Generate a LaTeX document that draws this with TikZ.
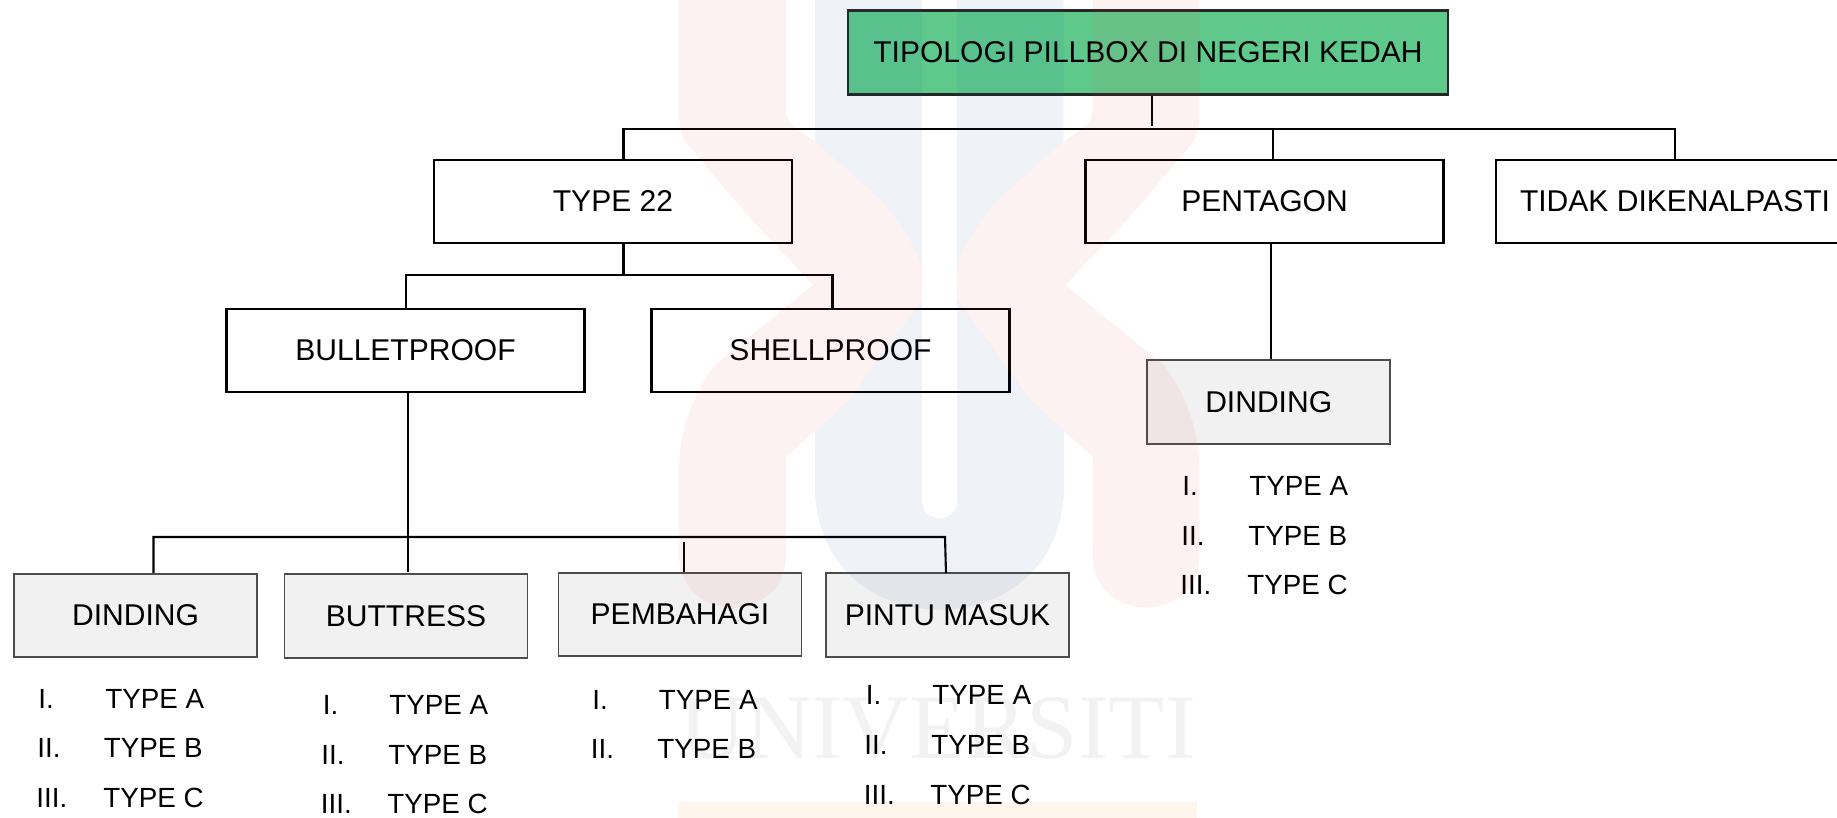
\documentclass[tikz,border=0pt]{standalone}
\usepackage{fontspec}
\setmainfont{Liberation Sans}
\newfontfamily\wmfont{Liberation Serif}
\definecolor{titlegreen}{HTML}{5EC98B}
\definecolor{boxgrey}{HTML}{F1F1F1}
\definecolor{wmred}{RGB}{230,67,67}
\definecolor{wmblue}{RGB}{30,92,155}
\definecolor{wmorange}{RGB}{243,118,0}
\tikzset{
  label/.style={font=\fontsize{17.1}{20}\selectfont, text=black},
  plainbox/.style={label, shape=rectangle, draw=black, line width=0.042cm, minimum width=7.16cm, minimum height=1.66cm, inner sep=0},
  greybox/.style={label, shape=rectangle, draw=black!70, fill=boxgrey, line width=0.036cm, minimum width=4.86cm, minimum height=1.67cm, inner sep=0},
  item/.style={font=\fontsize{15.8}{19}\selectfont, text=black, anchor=base west, inner sep=0, xshift=-0.02cm},
  link/.style={black, line width=0.042cm},
  wmred/.style={fill=wmred, fill opacity=0.065},
  wmblue/.style={fill=wmblue, fill opacity=0.07},
}
\begin{document}
\begin{tikzpicture}[x=0.02cm,y=-0.02cm]
\useasboundingbox (0,0) rectangle (1837,818);

\node[plainbox, draw=black!85, fill=titlegreen, minimum width=12cm, minimum height=1.68cm] (title) at (1148,52.5) {TIPOLOGI PILLBOX DI NEGERI KEDAH};
\node[plainbox] (type22) at (613,201.5) {TYPE 22};
\node[plainbox] (pentagon) at (1264.5,201.5) {PENTAGON};
\node[plainbox] (tidak) at (1675,201.5) {TIDAK DIKENALPASTI};
\node[plainbox] (bullet) at (405.5,350.5) {BULLETPROOF};
\node[plainbox] (shell) at (830.5,350.5) {SHELLPROOF};
\node[greybox] (dinding) at (135.5,615.5) {DINDING};
\node[greybox] (buttress) at (406,616) {BUTTRESS};
\node[greybox] (pembahagi) at (680,614.5) {PEMBAHAGI};
\node[greybox] (pintu) at (947.5,615) {PINTU MASUK};
\node[greybox] (dindingb) at (1268.7,402) {DINDING};

\node[item] (a1n) at (39,708) {I.};
\node[item] (a1t) at (106,708) {TYPE A};
\node[item] (a2n) at (38,757.5) {II.};
\node[item] (a2t) at (104.5,757.5) {TYPE B};
\node[item] (a3n) at (37,807) {III.};
\node[item] (a3t) at (104,807) {TYPE C};
\node[item] (b1n) at (323.5,714.5) {I.};
\node[item] (b1t) at (390,714.5) {TYPE A};
\node[item] (b2n) at (322,764) {II.};
\node[item] (b2t) at (389,764) {TYPE B};
\node[item] (b3n) at (321.5,813) {III.};
\node[item] (b3t) at (388,813) {TYPE C};
\node[item] (c1n) at (593,709) {I.};
\node[item] (c1t) at (659.5,709) {TYPE A};
\node[item] (c2n) at (591.5,758.5) {II.};
\node[item] (c2t) at (658,758.5) {TYPE B};
\node[item] (d1n) at (866.5,704.5) {I.};
\node[item] (d1t) at (933,704.5) {TYPE A};
\node[item] (d2n) at (865,754) {II.};
\node[item] (d2t) at (932,754) {TYPE B};
\node[item] (d3n) at (864.5,804) {III.};
\node[item] (d3t) at (931,804) {TYPE C};
\node[item] (e1n) at (1183,495.5) {I.};
\node[item] (e1t) at (1250,495.5) {TYPE A};
\node[item] (e2n) at (1182,545) {II.};
\node[item] (e2t) at (1249,545) {TYPE B};
\node[item] (e3n) at (1181,594.5) {III.};
\node[item] (e3t) at (1248,594.5) {TYPE C};

\coordinate (stem) at (1152,126);
\coordinate (barl) at (623.5,129);
\coordinate (barm) at (1273,129);
\coordinate (barr) at (1675,129);
\coordinate (penta) at (1271,243);
\coordinate (midl) at (406,275);
\coordinate (midm) at (623.5,275);
\coordinate (midr) at (832.5,275);
\coordinate (bulletstem) at (408,572);
\coordinate (lowl) at (153.5,537);
\coordinate (lowr) at (945,537);
\coordinate (pintutop) at (946,573);
\coordinate (pemtop) at (684,542);
\draw[link] (title.south -| stem) -- (stem);
\draw[link] (type22.north -| barl) |- (barr) -- (tidak.north -| barr);
\draw[link] (barm) -- (pentagon.north -| barm);
\draw[link] (pentagon.south -| penta) -- (dindingb.north -| penta);
\draw[link] (type22.south -| midm) -- (midm);
\draw[link] (bullet.north -| midl) |- (midr) -- (shell.north -| midr);
\draw[link] (bullet.south -| bulletstem) -- (bulletstem);
\draw[link] (dinding.north -| lowl) |- (lowr) -- (pintutop);
\draw[link] (pemtop) -- (pembahagi.north -| pemtop);

% watermark
\foreach \flip/\shift in {1/0cm,-1/-37.58cm} {
\begin{scope}[xscale=\flip,xshift=\shift]
\path[wmred] (679,0) -- (786,0) -- (786,110) .. controls (786,125) and (800,130) .. (817,143) -- (881,200) .. controls (900,222) and (915,245) .. (922,267) -- (922,300) -- (849,400) -- (786,457) -- (786,555) .. controls (786,625) and (679,625) .. (679,555) -- (679,470) .. controls (679,430) and (695,390) .. (715,365) -- (813,285) -- (749,217) -- (686,143) .. controls (681,135) and (679,125) .. (679,113) -- cycle;
\path[wmblue] (815,0) -- (922,0) -- (922,267) .. controls (915,245) and (900,222) .. (881,200) -- (817,143) -- (815,141) -- cycle;
\end{scope}
}
\path[wmblue] (922,300) -- (849,400) -- (815,431) -- (815,486) .. controls (815,651) and (1064,651) .. (1064,486) -- (1064,431) -- (1030,400) -- (957,300) -- (957,501) .. controls (957,524) and (922,524) .. (922,501) -- cycle;
\node[text=black, text opacity=0.05, font=\wmfont\fontsize{52.4}{60}\selectfont, anchor=base, inner sep=0] (wmtext) at (937.5,758) {UNIVERSITI};
\path[fill=wmorange, fill opacity=0.07] (678,802) rectangle (1197,818);
\end{tikzpicture}
\end{document}
